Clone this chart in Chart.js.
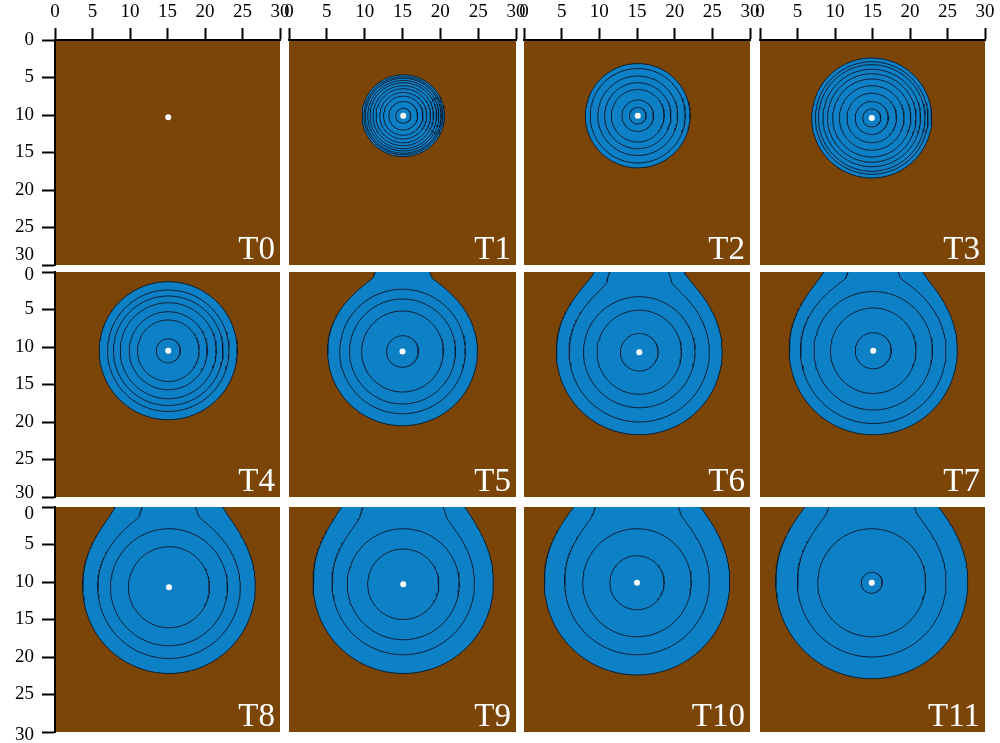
<!DOCTYPE html>
<html>
<head>
<meta charset="utf-8">
<script src="https://cdn.jsdelivr.net/npm/chart.js@4/dist/chart.umd.min.js"></script>
<style>
body { margin: 0; background: #fff; width: 1000px; height: 743px; position: relative; overflow: hidden; }
canvas { position: absolute; }
</style>
</head>
<body>
<script>
// time steps, one panel each
var panelNames = ['T0', 'T1', 'T2', 'T3', 'T4', 'T5', 'T6', 'T7', 'T8', 'T9', 'T10', 'T11'];
// axis tick labels (cm)
var axisTicks = [0, 5, 10, 15, 20, 25, 30];
// emitter position (cm)
var centreX = [15.1, 15.1, 15.1, 14.9, 15.1, 15.0, 15.3, 15.1, 15.2, 15.1, 15.0, 14.9];
var centreY = [10.3, 10.1, 10.1, 10.4, 10.5, 10.6, 10.7, 10.5, 10.7, 10.3, 10.1, 10.1];
// contour radii, inner to outer (cm); the last one is the wetting front
var contourRadii = [
    [],
    [1.0, 1.9, 2.6, 3.1, 3.6, 4.0, 4.4, 4.7, 5.0, 5.2, 5.45],
    [1.1, 2.1, 3.5, 4.4, 5.3, 6.3, 6.95],
    [1.2, 2.2, 3.3, 4.3, 5.2, 5.9, 6.5, 7.1, 7.5, 8.0],
    [1.6, 4.1, 5.2, 6.4, 7.3, 8.1, 9.2],
    [2.1, 5.4, 7.0, 8.3, 9.9],
    [2.5, 5.6, 7.4, 9.3, 11.0],
    [2.4, 5.7, 7.9, 9.7, 11.2],
    [5.4, 7.8, 9.5, 11.5],
    [4.7, 7.4, 9.4, 11.9],
    [3.6, 7.2, 9.6, 12.3],
    [1.4, 7.2, 9.9, 12.8]
];
// half width where a contour reaches the surface (0 = closed ring)
var contourNecks = [
    [],
    [0, 0, 0, 0, 0, 0, 0, 0, 0, 0, 0],
    [0, 0, 0, 0, 0, 0, 0],
    [0, 0, 0, 0, 0, 0, 0, 0, 0, 0],
    [0, 0, 0, 0, 0, 0, 0],
    [0, 0, 0, 0, 3.6],
    [0, 0, 0, 3.9, 6.0],
    [0, 0, 0, 3.35, 6.6],
    [0, 0, 3.55, 7.2],
    [0, 0, 5.3, 8.1],
    [0, 0, 5.5, 8.1],
    [0, 0, 5.7, 8.4]
];

var soilColour = '#7a4506';
var waterColour = '#0e80c6';
var lineColour = '#0c1e33';

// page layout of the panels
var colLeft = [55, 289, 524, 760];
var colWidth = [225, 227, 226, 225];
var rowTop = [40, 272, 507];
var rowHeight = [225, 225, 225];
var margin = 60;
var axisW = 55;
var axisH = 40;
// nudge (px) of the end labels of each row's depth axis, as in the figure
var yLabelNudge = [{0: 0, 30: -10}, {0: 3, 30: -4}, {0: 7, 30: 3}];

function smoothMax(a, b, k) {
    var g = Math.max(k - Math.abs(a - b), 0) / k;
    return Math.max(a, b) + g * g * k / 4;
}

// outline of one contour in data units
function contourPoints(cx, cy, r, neck) {
    var pts = [], a, t;
    if (!neck) {
        for (a = 0; a <= 360; a += 3) {
            t = a * Math.PI / 180;
            pts.push({x: cx + r * Math.sin(t), y: cy - r * Math.cos(t)});
        }
        return pts;
    }
    var side = [];
    for (var y = 0; y < cy; y += 0.2) {
        var d = y - cy;
        var c = r * r > d * d ? Math.sqrt(r * r - d * d) : 0;
        var n = neck + 0.4 * y;
        var f = 1 - (y / cy) * (y / cy);
        f = f * f;
        side.push({y: y, h: c + (smoothMax(c, n, 3) - c) * f});
    }
    side.forEach(function (p) { pts.push({x: cx - p.h, y: p.y}); });
    for (a = 270; a >= 90; a -= 3) {
        t = a * Math.PI / 180;
        pts.push({x: cx + r * Math.sin(t), y: cy - r * Math.cos(t)});
    }
    side.slice().reverse().forEach(function (p) { pts.push({x: cx + p.h, y: p.y}); });
    return pts;
}

var panelPlugin = {
    id: 'panel',
    beforeDraw: function (chart) {
        var a = chart.chartArea, ctx = chart.ctx;
        ctx.save();
        ctx.fillStyle = soilColour;
        ctx.fillRect(a.left, a.top, a.right - a.left, a.bottom - a.top);
        ctx.restore();
    },
    afterDatasetsDraw: function (chart, args, opts) {
        var a = chart.chartArea, ctx = chart.ctx;
        ctx.save();
        ctx.fillStyle = '#ffffff';
        ctx.font = '33px "Liberation Serif", "Times New Roman", serif';
        ctx.textAlign = 'right';
        ctx.textBaseline = 'alphabetic';
        ctx.fillText(opts.label, a.right - 5, a.bottom - 6);
        ctx.restore();
    }
};

var fontFamily = '"Liberation Serif", "Times New Roman", serif';

panelNames.forEach(function (name, i) {
    var row = Math.floor(i / 4), col = i % 4;
    var showX = row === 0, showY = col === 0;
    var w = colWidth[col], h = rowHeight[row];
    var nudge = yLabelNudge[row];

    var canvas = document.createElement('canvas');
    canvas.width = w + 2 * margin;
    canvas.height = h + 2 * margin;
    canvas.style.left = (colLeft[col] - margin) + 'px';
    canvas.style.top = (rowTop[row] - margin) + 'px';
    document.body.appendChild(canvas);

    var datasets = [{
        data: [{x: centreX[i], y: centreY[i]}],
        showLine: false,
        pointRadius: 3,
        pointBackgroundColor: '#ffffff',
        pointBorderWidth: 0
    }];
    var radii = contourRadii[i], necks = contourNecks[i];
    for (var k = 0; k < radii.length; k++) {
        var outer = k === radii.length - 1;
        datasets.push({
            data: contourPoints(centreX[i], centreY[i], radii[k], necks[k]),
            showLine: true,
            pointRadius: 0,
            borderColor: lineColour,
            borderWidth: 1,
            backgroundColor: waterColour,
            fill: outer ? 'shape' : false,
            tension: 0
        });
    }

    new Chart(canvas, {
        type: 'scatter',
        data: {datasets: datasets},
        plugins: [panelPlugin],
        options: {
            responsive: false,
            animation: false,
            devicePixelRatio: 1,
            events: [],
            layout: {
                padding: {
                    left: margin - (showY ? axisW : 0),
                    top: margin - (showX ? axisH : 0),
                    right: margin,
                    bottom: margin
                }
            },
            plugins: {
                legend: {display: false},
                tooltip: {enabled: false},
                panel: {label: name}
            },
            scales: {
                x: {
                    type: 'linear',
                    position: 'top',
                    min: 0,
                    max: 30,
                    display: showX,
                    afterBuildTicks: function (s) {
                        s.ticks = axisTicks.map(function (v) { return {value: v}; });
                    },
                    afterFit: function (s) {
                        if (s.options.display) { s.height = axisH; }
                        s.paddingLeft = 0;
                        s.paddingRight = 0;
                    },
                    grid: {drawOnChartArea: false, tickLength: 12, tickColor: '#000', tickWidth: 2},
                    border: {color: '#000', width: 2},
                    ticks: {color: '#000', font: {family: fontFamily, size: 19}, padding: 5, maxRotation: 0, autoSkip: false}
                },
                y: {
                    type: 'linear',
                    position: 'left',
                    reverse: true,
                    min: 0,
                    max: 30,
                    display: showY,
                    afterBuildTicks: function (s) {
                        s.ticks = axisTicks.map(function (v) { return {value: v}; });
                    },
                    afterFit: function (s) {
                        if (s.options.display) { s.width = axisW; }
                        s.paddingTop = 0;
                        s.paddingBottom = 0;
                    },
                    grid: {drawOnChartArea: false, tickLength: 13, tickColor: '#000', tickWidth: 2},
                    border: {color: '#000', width: 2},
                    ticks: {
                        color: '#000',
                        padding: 8,
                        autoSkip: false,
                        callback: function (v) {
                            var s = nudge[v] || 0;
                            if (s < 0) { return [String(v), '']; }
                            if (s > 0) { return ['', String(v)]; }
                            return String(v);
                        },
                        font: function (c) {
                            var s = c.tick ? (nudge[c.tick.value] || 0) : 0;
                            return {family: fontFamily, size: 19, lineHeight: s ? Math.abs(s) * 2 / 19 : 1.2};
                        }
                    }
                }
            }
        }
    });
});
</script>
</body>
</html>
